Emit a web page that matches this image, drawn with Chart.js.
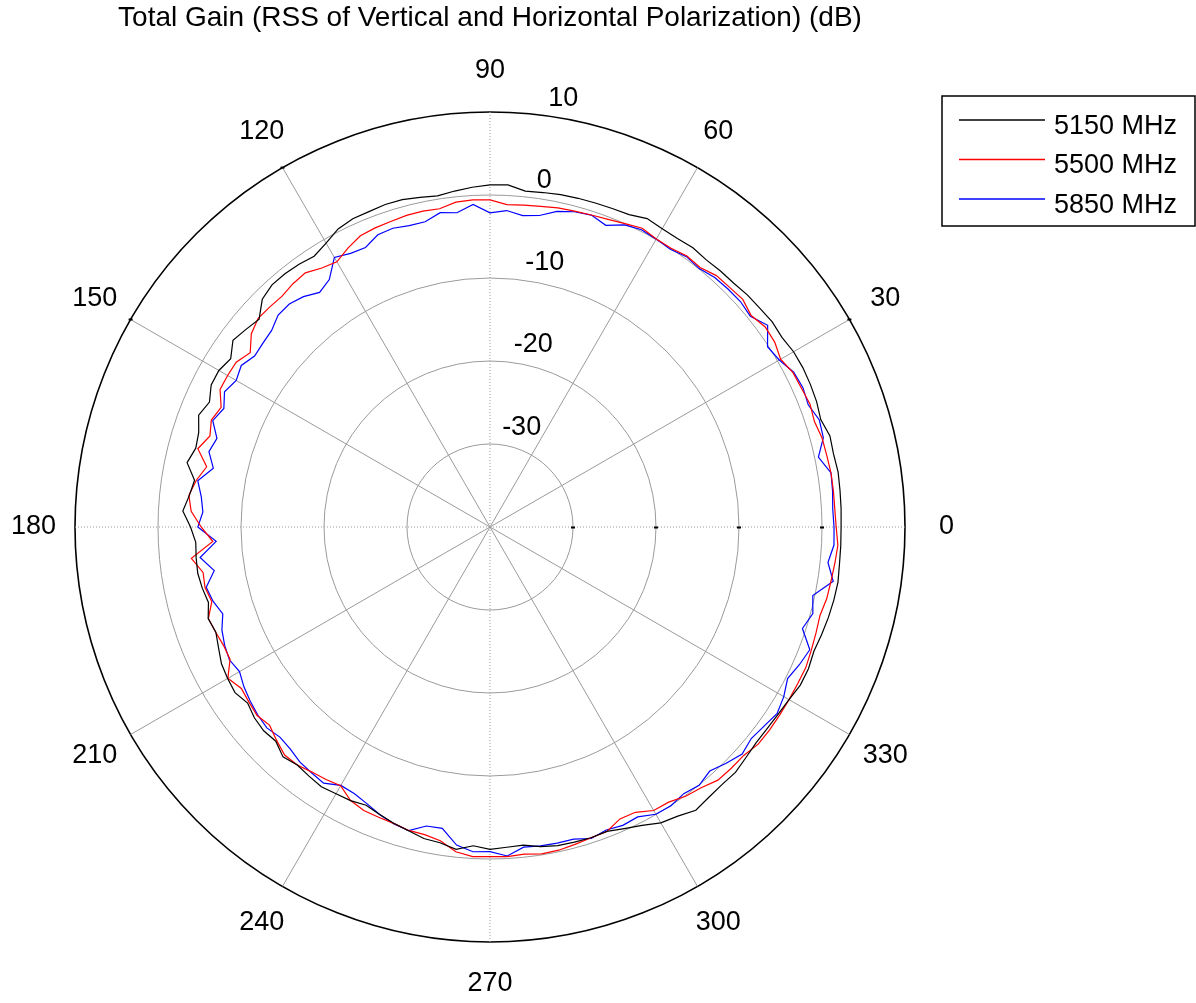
<!DOCTYPE html>
<html>
<head>
<meta charset="utf-8">
<title>Total Gain</title>
<script src="https://cdn.jsdelivr.net/npm/chart.js@4.4.1/dist/chart.umd.min.js"></script>
<style>
  html, body { margin: 0; padding: 0; background: #fff; }
</style>
</head>
<body>
<canvas id="myChart" width="1196" height="1003"></canvas>
<script>
// measured angles (deg), one point every 3 degrees
const angles = [
  0, 3, 6, 9, 12, 15, 18, 21, 24, 27,
  30, 33, 36, 39, 42, 45, 48, 51, 54, 57,
  60, 63, 66, 69, 72, 75, 78, 81, 84, 87,
  90, 93, 96, 99, 102, 105, 108, 111, 114, 117,
  120, 123, 126, 129, 132, 135, 138, 141, 144, 147,
  150, 153, 156, 159, 162, 165, 168, 171, 174, 177,
  180, 183, 186, 189, 192, 195, 198, 201, 204, 207,
  210, 213, 216, 219, 222, 225, 228, 231, 234, 237,
  240, 243, 246, 249, 252, 255, 258, 261, 264, 267,
  270, 273, 276, 279, 282, 285, 288, 291, 294, 297,
  300, 303, 306, 309, 312, 315, 318, 321, 324, 327,
  330, 333, 336, 339, 342, 345, 348, 351, 354, 357
];

// total gain in dB
const gain5150 = [
  2.3, 2.36, 2.4, 2.46, 2.31, 2.4, 1.9, 2.15, 2.25, 2.3,
  2.23, 1.94, 2.03, 1.85, 1.76, 1.54, 1.5, 1.41, 1.59, 1.46,
  1.5, 1.7, 1.2, 1.1, 1.05, 1.0, 0.93, 0.8, 0.69, 1.28,
  1.23, 0.99, 0.7, 0.4, 0.6, 0.84, 0.85, 0.7, 0.65, 0.3,
  -0.5, -1.1, -0.86, -0.74, -0.75, -1.2, -2.57, -2.17, -1.72, -2.75,
  -2.28, -2.3, -3.0, -2.4, -3.1, -3.3, -2.69, -3.96, -3.58, -2.94,
  -3.92, -4.5, -4.4, -4.35, -4.56, -4.88, -4.3, -4.62, -4.2, -3.69,
  -3.5, -3.37, -3.9, -3.47, -3.31, -3.5, -2.73, -3.11, -2.9, -2.69,
  -2.9, -3.0, -3.3, -2.9, -2.48, -2.12, -1.63, -1.48, -0.95, -1.54,
  -1.17, -1.36, -1.45, -1.02, -0.75, -0.7, -0.63, -0.71, -0.22, 0.35,
  1.17, 1.54, 2.19, 1.9, 1.76, 1.82, 1.5, 1.27, 1.3, 1.4,
  1.6, 1.96, 2.0, 1.8, 2.0, 2.2, 2.35, 2.45, 2.34, 2.32
];
const gain5500 = [
  1.71, 1.6, 1.6, 1.6, 1.48, 1.42, 1.1, 1.3, 1.08, 0.97,
  0.43, 0.9, 0.99, 0.49, 0.98, 0.83, 0.76, 0.22, 0.36, 0.05,
  0.08, 0.4, 0.0, -0.3, -0.48, -0.6, -0.69, -0.9, -1.0, -1.1,
  -0.58, -0.53, -0.65, -1.18, -1.1, -1.13, -1.3, -1.4, -1.6, -2.3,
  -3.1, -2.8, -2.15, -2.28, -2.57, -2.49, -2.42, -3.0, -4.29, -3.54,
  -3.5, -3.5, -4.54, -4.04, -4.52, -3.56, -5.1, -4.16, -3.52, -3.95,
  -5.2, -6.56, -3.82, -5.0, -4.9, -5.3, -4.32, -4.6, -4.87, -4.85,
  -3.53, -4.28, -4.1, -3.9, -4.28, -3.64, -3.02, -3.11, -3.5, -3.73,
  -4.0, -3.01, -2.62, -2.55, -2.45, -2.15, -2.11, -1.72, -0.66, -0.23,
  -0.28, -0.23, -0.36, -0.12, -0.19, -0.41, -0.63, -0.71, -1.5, -1.42,
  -0.56, -0.47, 0.1, 0.42, 1.04, 1.11, 1.13, 1.58, 1.62, 1.6,
  1.6, 1.6, 1.65, 1.46, 1.3, 1.16, 1.48, 1.6, 1.78, 1.97
];
const gain5850 = [
  1.45, 1.35, 1.5, 1.6, 0.45, 1.58, 1.72, 1.07, 1.27, 1.07,
  0.24, -0.13, 1.35, 0.36, 0.6, 0.55, 0.46, 0.06, 0.26, -0.11,
  0.05, 0.2, -0.15, -1.07, -0.48, -0.68, -1.12, -2.0, -2.27, -1.82,
  -2.15, -1.09, -1.93, -1.66, -2.4, -2.4, -2.15, -2.29, -3.13, -3.0,
  -2.5, -4.45, -5.07, -4.29, -3.86, -3.9, -4.6, -4.8, -4.94, -4.27,
  -4.69, -4.1, -4.9, -4.22, -5.41, -4.94, -5.92, -4.35, -5.02, -5.36,
  -4.8, -6.96, -4.88, -6.36, -5.05, -5.45, -6.15, -5.4, -5.0, -4.76,
  -5.15, -4.65, -4.3, -4.0, -3.82, -4.2, -4.02, -3.58, -3.4, -3.2,
  -4.05, -3.95, -3.52, -2.9, -2.4, -2.12, -3.17, -3.23, -1.47, -0.82,
  -0.88, -0.31, -1.21, -1.11, -1.06, -1.07, -0.54, -0.9, -0.65, -0.8,
  -0.04, 0.04, -0.29, 0.04, -0.43, 0.25, 0.88, 0.5, 0.82, 1.25,
  0.87, 0.24, 0.8, 1.27, -0.42, 0.27, -0.24, 1.87, 0.94, 1.5
];

const seriesNames = ['5150 MHz', '5500 MHz', '5850 MHz'];
const seriesColors = ['#000000', '#ff0000', '#0000ff'];

const angleTicks = [0, 30, 60, 90, 120, 150, 180, 210, 240, 270, 300, 330];
const ringTicks = [-30, -20, -10, 0, 10];
const axisMarks = [-30, -20, -10, 0];
const rimMarks = [30, 120, 150];

const FONT = '"Liberation Sans", Arial, sans-serif';
const STEP = 3;

// radar goes clockwise from 3 o'clock, the plot is counter-clockwise,
// so walk the arrays backwards (0, 357, 354, ...)
function toRadarOrder(arr) {
  return angles.map(function (a, i) {
    return arr[(angles.length - i) % angles.length];
  });
}
function indexFor(theta) {
  return ((360 - theta) % 360) / STEP;
}

const radarLabels = toRadarOrder(angles);

const polarDecor = {
  id: 'polarDecor',
  afterDraw(chart) {
    const r = chart.scales.r;
    const ctx = chart.ctx;
    ctx.save();
    ctx.fillStyle = '#000';
    ctx.font = '27px ' + FONT;

    // angle labels just outside the rim
    ctx.textAlign = 'center';
    ctx.textBaseline = 'middle';
    angleTicks.forEach(function (a) {
      const p = r.getPointPosition(indexFor(a), r.drawingArea * 1.1);
      ctx.fillText(String(a), p.x, p.y);
    });

    // ring values along the 82 deg direction
    const rinc = r.getDistanceFromCenterForValue(10) - r.getDistanceFromCenterForValue(0);
    ctx.textAlign = 'left';
    ctx.textBaseline = 'bottom';
    ringTicks.forEach(function (v) {
      const p = r.getPointPosition(indexFor(82), r.getDistanceFromCenterForValue(v) + rinc / 20);
      ctx.fillText(String(v), p.x, p.y);
    });

    // small tick marks
    axisMarks.forEach(function (v) {
      const p = r.getPointPosition(0, r.getDistanceFromCenterForValue(v));
      ctx.fillRect(p.x - 2, p.y - 0.5, 4, 2);
    });
    rimMarks.forEach(function (a) {
      const p = r.getPointPosition(indexFor(a), r.drawingArea);
      ctx.fillRect(p.x - 2, p.y - 1, 4, 2);
    });

    // legend box
    ctx.strokeStyle = '#000';
    ctx.lineWidth = 1.5;
    ctx.strokeRect(942, 96, 253, 130);
    ctx.textBaseline = 'alphabetic';
    seriesNames.forEach(function (name, i) {
      const y = 120 + i * 39.5;
      ctx.beginPath();
      ctx.strokeStyle = seriesColors[i];
      ctx.lineWidth = 1.3;
      ctx.moveTo(959, y);
      ctx.lineTo(1045, y);
      ctx.stroke();
      ctx.fillStyle = '#000';
      ctx.fillText(name, 1054, y + 13.5);
    });
    ctx.restore();
  }
};

const data = {
  labels: radarLabels,
  datasets: [
    {
      label: seriesNames[0],
      data: toRadarOrder(gain5150),
      borderColor: seriesColors[0],
      backgroundColor: 'transparent',
      borderWidth: 1.2,
      fill: false
    },
    {
      label: seriesNames[1],
      data: toRadarOrder(gain5500),
      borderColor: seriesColors[1],
      backgroundColor: 'transparent',
      borderWidth: 1.2,
      fill: false
    },
    {
      label: seriesNames[2],
      data: toRadarOrder(gain5850),
      borderColor: seriesColors[2],
      backgroundColor: 'transparent',
      borderWidth: 1.2,
      fill: false
    }
  ]
};

const config = {
  type: 'radar',
  data: data,
  options: {
    responsive: false,
    animation: false,
    layout: {
      padding: { left: 75, right: 291, top: 0, bottom: 61 }
    },
    elements: {
      point: { radius: 0, hitRadius: 0, hoverRadius: 0 },
      line: { tension: 0 }
    },
    plugins: {
      legend: { display: false },
      tooltip: { enabled: false },
      title: {
        display: true,
        text: 'Total Gain (RSS of Vertical and Horizontal Polarization) (dB)',
        fullSize: false,
        color: '#000',
        font: { family: FONT, size: 28, weight: 'normal', lineHeight: 1.2 },
        padding: { top: 1, bottom: 77.4 }
      }
    },
    scales: {
      r: {
        min: -40,
        max: 10,
        startAngle: 90,
        ticks: { display: false, stepSize: 10 },
        pointLabels: { display: false },
        grid: {
          circular: true,
          color: function (c) { return c.tick && c.tick.value === 10 ? '#000' : '#9a9a9a'; },
          lineWidth: function (c) { return c.tick && c.tick.value === 10 ? 1.6 : 1; }
        },
        angleLines: {
          color: '#9a9a9a',
          lineWidth: function (c) { return radarLabels[c.index] % 30 === 0 ? 1 : 0; },
          borderDash: function (c) { return radarLabels[c.index] % 90 === 0 ? [1, 2] : []; }
        }
      }
    }
  },
  plugins: [polarDecor]
};

const ctx = document.getElementById('myChart');
new Chart(ctx, config);
</script>
</body>
</html>
